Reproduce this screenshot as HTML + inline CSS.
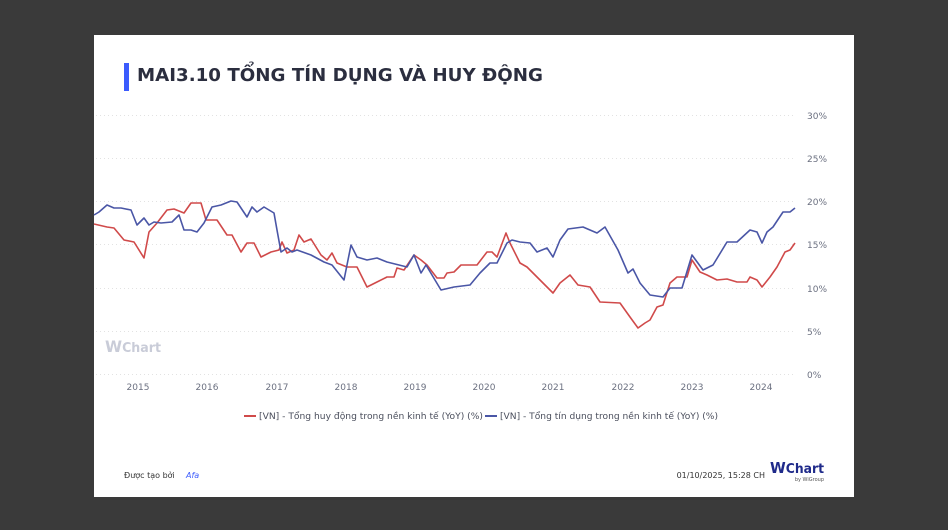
<!DOCTYPE html>
<html><head><meta charset="utf-8"><style>
html,body{margin:0;padding:0;background:#3a3a3a;width:948px;height:530px;overflow:hidden}
svg{display:block}
</style></head><body>
<svg width="948" height="530" xmlns="http://www.w3.org/2000/svg" font-family="DejaVu Sans, Liberation Sans, sans-serif">
<rect x="0" y="0" width="948" height="530" fill="#3a3a3a"/>
<rect x="94" y="35" width="760" height="462" fill="#ffffff"/>
<rect x="124" y="63" width="5" height="28" fill="#3b5bfd"/>
<text x="137" y="81" font-family="DejaVu Sans, sans-serif" font-weight="bold" font-size="18" fill="#2b2e3f" textLength="406" lengthAdjust="spacingAndGlyphs">MAI3.10 TỔNG TÍN DỤNG VÀ HUY ĐỘNG</text>
<g stroke="#e2e2e2" stroke-width="1" stroke-dasharray="1,3">
<line x1="96" y1="115.5" x2="795" y2="115.5"/>
<line x1="96" y1="158.5" x2="795" y2="158.5"/>
<line x1="96" y1="201.5" x2="795" y2="201.5"/>
<line x1="96" y1="244.5" x2="795" y2="244.5"/>
<line x1="96" y1="288.5" x2="795" y2="288.5"/>
<line x1="96" y1="331.5" x2="795" y2="331.5"/>
<line x1="96" y1="374.5" x2="795" y2="374.5"/>
</g>
<g font-size="9" fill="#6b7080">
<text x="807" y="119">30%</text><text x="807" y="162">25%</text><text x="807" y="205">20%</text><text x="807" y="248">15%</text><text x="807" y="292">10%</text><text x="807" y="335">5%</text><text x="807" y="378">0%</text>
</g>
<g font-size="9" fill="#6b7080" text-anchor="middle">
<text x="138" y="390">2015</text><text x="207" y="390">2016</text><text x="277" y="390">2017</text><text x="346" y="390">2018</text><text x="415" y="390">2019</text><text x="484" y="390">2020</text><text x="553" y="390">2021</text><text x="623" y="390">2022</text><text x="692" y="390">2023</text><text x="761" y="390">2024</text>
</g>
<text x="105" y="352" font-size="16" font-weight="bold" fill="#c9ccd8" textLength="56" lengthAdjust="spacingAndGlyphs">W<tspan font-size="13">Chart</tspan></text>
<polyline fill="none" stroke="#d04a4a" stroke-width="1.6" stroke-linejoin="round" points="94,224 107,227 114,228 124,240 134,242 144,258 149,232 157,223 167,210 174,209 184,213 191,203 201,203 206,220 217,220 227,235 232,235 241,252 247,243 254,243 261,257 271,252 279,250 282,242 287,253 294,250 299,235 304,242 311,239 321,255 327,260 332,253 337,263 347,267 357,267 367,287 377,282 387,277 394,277 397,268 404,270 414,255 421,260 427,265 437,278 444,278 447,273 454,272 461,265 474,265 477,265 487,252 492,252 497,257 506,233 510,243 520,263 527,267 543,283 553,293 560,283 570,275 578,285 590,287 600,302 620,303 630,317 638,328 645,323 650,320 657,307 663,305 670,283 677,277 687,277 692,260 700,272 707,275 717,280 727,279 737,282 747,282 750,277 757,280 762,287 770,277 777,267 785,252 790,250 795,243"/>
<polyline fill="none" stroke="#4a56a6" stroke-width="1.6" stroke-linejoin="round" points="94,215 99,212 107,205 114,208 121,208 131,210 137,225 144,218 149,225 154,222 161,223 172,222 179,215 184,230 191,230 197,232 204,223 212,207 221,205 231,201 237,202 247,217 252,207 257,212 264,207 274,213 277,230 281,252 287,248 292,252 297,250 311,255 324,262 332,265 344,280 351,245 357,257 367,260 377,258 387,262 407,267 414,255 421,273 426,265 441,290 454,287 470,285 480,273 490,263 497,263 507,243 512,240 520,242 530,243 537,252 547,248 553,257 560,240 568,229 583,227 597,233 605,227 618,250 628,273 633,269 640,283 650,295 663,297 670,288 682,288 692,255 703,270 713,265 727,242 737,242 750,230 757,232 762,243 767,232 773,227 783,212 790,212 795,208"/>
<line x1="244" y1="416" x2="256" y2="416" stroke="#d04a4a" stroke-width="2"/>
<text x="259" y="419" font-size="9" fill="#4a4e5c" textLength="224" lengthAdjust="spacingAndGlyphs">[VN] - Tổng huy động trong nền kinh tế (YoY) (%)</text>
<line x1="485" y1="416" x2="497" y2="416" stroke="#4a56a6" stroke-width="2"/>
<text x="500" y="419" font-size="9" fill="#4a4e5c" textLength="218" lengthAdjust="spacingAndGlyphs">[VN] - Tổng tín dụng trong nền kinh tế (YoY) (%)</text>
<text x="124" y="478" font-size="8" fill="#333">Được tạo bởi</text>
<text x="186" y="478" font-size="8" font-style="italic" fill="#3b5bfd">Afa</text>
<text x="765" y="478" font-size="8" fill="#333" text-anchor="end">01/10/2025, 15:28 CH</text>
<text x="770" y="473" font-size="15" font-weight="bold" fill="#1f2a8a" textLength="54" lengthAdjust="spacingAndGlyphs">W<tspan font-size="13">Chart</tspan></text>
<text x="824" y="481" font-size="5" fill="#555" text-anchor="end">by WiGroup</text>
</svg>
</body></html>
